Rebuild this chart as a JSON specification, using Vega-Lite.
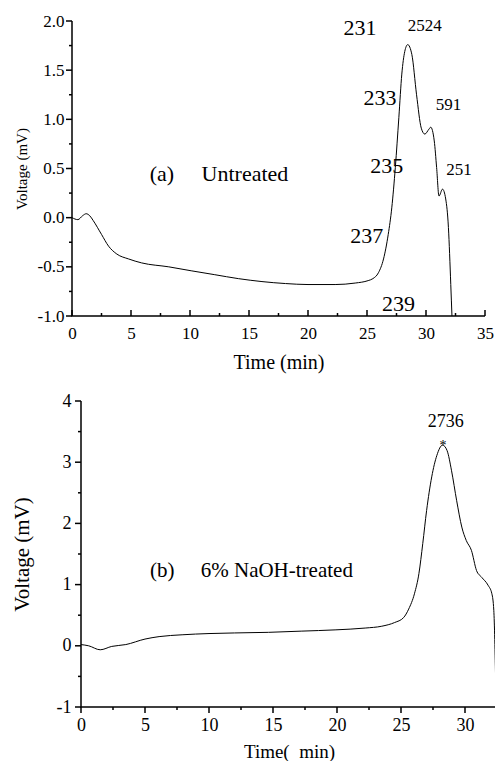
{
  "$schema": "https://vega.github.io/schema/vega-lite/v6.json",
  "padding": {"left": 11, "top": 12, "right": 0, "bottom": 0},
  "spacing": 20,
  "config": {
    "view": {"stroke": null, "fill": null},
    "axis": {"grid": false, "domain": false, "ticks": false, "labelColor": "#000000", "titleColor": "#000000", "labelFont": "Liberation Serif", "titleFont": "Liberation Serif", "titleFontWeight": "normal", "labelOverlap": false, "labelFlush": false}
  },
  "datasets": {
    "a": [
      {"t": 0, "v": 0}, {"t": 0.5, "v": -0.02}, {"t": 0.9, "v": 0.02}, {"t": 1.2, "v": 0.04}, {"t": 1.5, "v": 0.02}, {"t": 1.8, "v": -0.03},
      {"t": 2.5, "v": -0.17}, {"t": 3.1, "v": -0.29}, {"t": 3.8, "v": -0.37}, {"t": 4.8, "v": -0.42}, {"t": 5.9, "v": -0.46},
      {"t": 8.2, "v": -0.5}, {"t": 10.1, "v": -0.54}, {"t": 12.1, "v": -0.58}, {"t": 14.1, "v": -0.62}, {"t": 16.1, "v": -0.65},
      {"t": 18.1, "v": -0.67}, {"t": 20, "v": -0.68}, {"t": 22.3, "v": -0.68}, {"t": 24, "v": -0.665}, {"t": 25.1, "v": -0.64},
      {"t": 25.5, "v": -0.62}, {"t": 25.97, "v": -0.56}, {"t": 26.4, "v": -0.42}, {"t": 26.8, "v": -0.17}, {"t": 27.1, "v": 0.1},
      {"t": 27.4, "v": 0.51}, {"t": 27.7, "v": 1.02}, {"t": 27.95, "v": 1.46}, {"t": 28.2, "v": 1.69}, {"t": 28.45, "v": 1.76},
      {"t": 28.8, "v": 1.66}, {"t": 29.2, "v": 1.25}, {"t": 29.6, "v": 0.91}, {"t": 29.9, "v": 0.85}, {"t": 30.25, "v": 0.9},
      {"t": 30.4, "v": 0.92}, {"t": 30.7, "v": 0.78}, {"t": 30.9, "v": 0.51}, {"t": 31.1, "v": 0.22}, {"t": 31.4, "v": 0.29},
      {"t": 31.67, "v": 0.19}, {"t": 31.9, "v": -0.1}, {"t": 32.1, "v": -0.68}, {"t": 32.2, "v": -1.0}
    ],
    "a_frame": [{"t": 0, "v": 2, "i": 0}, {"t": 0, "v": -1, "i": 1}, {"t": 35, "v": -1, "i": 2}],
    "a_xmajor": [{"t": 0}, {"t": 5}, {"t": 10}, {"t": 15}, {"t": 20}, {"t": 25}, {"t": 30}, {"t": 35}],
    "a_xminor": [{"t": 2.5}, {"t": 7.5}, {"t": 12.5}, {"t": 17.5}, {"t": 22.5}, {"t": 27.5}, {"t": 32.5}],
    "a_ymajor": [{"v": -1}, {"v": -0.5}, {"v": 0}, {"v": 0.5}, {"v": 1}, {"v": 1.5}, {"v": 2}],
    "a_yminor": [{"v": -0.75}, {"v": -0.25}, {"v": 0.25}, {"v": 0.75}, {"v": 1.25}, {"v": 1.75}],
    "a_fractions": [
      {"t": 24.4, "v": 1.93, "label": "231"}, {"t": 26.1, "v": 1.22, "label": "233"}, {"t": 26.67, "v": 0.525, "label": "235"},
      {"t": 24.97, "v": -0.19, "label": "237"}, {"t": 27.66, "v": -0.88, "label": "239"}
    ],
    "a_peaks": [
      {"t": 29.9, "v": 1.95, "label": "2524"}, {"t": 31.9, "v": 1.145, "label": "591"}, {"t": 32.8, "v": 0.48, "label": "251"}
    ],
    "a_title": [{"t": 6.58, "v": 0.44, "label": "(a)\u00a0\u00a0\u00a0\u00a0 Untreated"}],
    "b": [
      {"t": 0, "v": 0.02}, {"t": 0.6, "v": 0}, {"t": 1.5, "v": -0.065}, {"t": 2.4, "v": -0.01}, {"t": 3.5, "v": 0.02},
      {"t": 5.0, "v": 0.11}, {"t": 6.1, "v": 0.15}, {"t": 7.9, "v": 0.18}, {"t": 10, "v": 0.2}, {"t": 12, "v": 0.21},
      {"t": 14.65, "v": 0.22}, {"t": 17.25, "v": 0.24}, {"t": 19.85, "v": 0.26}, {"t": 22.2, "v": 0.29}, {"t": 23.5, "v": 0.32},
      {"t": 24.5, "v": 0.38}, {"t": 25.2, "v": 0.46}, {"t": 25.6, "v": 0.6}, {"t": 26.05, "v": 0.85}, {"t": 26.4, "v": 1.18},
      {"t": 26.7, "v": 1.67}, {"t": 27.0, "v": 2.21}, {"t": 27.4, "v": 2.76}, {"t": 27.8, "v": 3.11}, {"t": 28.25, "v": 3.28},
      {"t": 28.6, "v": 3.19}, {"t": 28.95, "v": 2.86}, {"t": 29.35, "v": 2.37}, {"t": 29.75, "v": 1.94}, {"t": 30.1, "v": 1.72},
      {"t": 30.5, "v": 1.56}, {"t": 30.9, "v": 1.23}, {"t": 31.3, "v": 1.12}, {"t": 31.8, "v": 0.99}, {"t": 32.1, "v": 0.85},
      {"t": 32.25, "v": 0.58}, {"t": 32.4, "v": -0.62}
    ],
    "b_frame": [{"t": 0, "v": 4, "i": 0}, {"t": 0, "v": -1, "i": 1}, {"t": 32.5, "v": -1, "i": 2}],
    "b_xmajor": [{"t": 0}, {"t": 5}, {"t": 10}, {"t": 15}, {"t": 20}, {"t": 25}, {"t": 30}],
    "b_xminor": [{"t": 2.5}, {"t": 7.5}, {"t": 12.5}, {"t": 17.5}, {"t": 22.5}, {"t": 27.5}, {"t": 32.5}],
    "b_ymajor": [{"v": -1}, {"v": 0}, {"v": 1}, {"v": 2}, {"v": 3}, {"v": 4}],
    "b_yminor": [{"v": -0.5}, {"v": 0.5}, {"v": 1.5}, {"v": 2.5}, {"v": 3.5}],
    "b_peak": [{"t": 28.5, "v": 3.65, "label": "2736"}],
    "b_star": [{"t": 28.28, "v": 3.26, "label": "*"}],
    "b_title": [{"t": 5.39, "v": 1.23, "label": "(b)\u00a0\u00a0\u00a0\u00a0 6% NaOH-treated"}]
  },
  "vconcat": [
    {
      "width": 413,
      "height": 295,
      "resolve": {"axis": {"x": "independent", "y": "independent"}},
      "layer": [
        {
          "data": {"name": "a"},
          "mark": {"type": "line", "color": "black", "strokeWidth": 1, "interpolate": "monotone", "clip": true},
          "encoding": {
            "x": {"field": "t", "type": "quantitative", "scale": {"domain": [0, 35], "nice": false, "zero": false},
              "axis": {"orient": "bottom", "values": [0, 5, 10, 15, 20, 25, 30, 35], "domain": false, "ticks": false,
                "labelPadding": 9, "labelFontSize": 17, "labelFont": "Liberation Serif", "labelColor": "#000000", "title": "Time (min)", "titleFont": "Liberation Serif", "titleFontSize": 20, "titlePadding": 11}},
            "y": {"field": "v", "type": "quantitative", "scale": {"domain": [-1, 2], "nice": false, "zero": false},
              "axis": {"orient": "left", "values": [-1, -0.5, 0, 0.5, 1, 1.5, 2], "domain": false, "ticks": false,
                "labelExpr": "replace(format(datum.value, '.1f'), '\u2212', '-')",
                "labelPadding": 8, "labelFontSize": 17, "labelFont": "Liberation Serif", "labelColor": "#000000", "title": "Voltage (mV)", "titleFont": "Liberation Serif", "titleFontSize": 15, "titlePadding": 8}}
          }
        },
        {
          "data": {"name": "a_frame"},
          "mark": {"type": "line", "color": "black", "strokeWidth": 1.5, "clip": false},
          "encoding": {"x": {"field": "t", "type": "quantitative", "axis": null}, "y": {"field": "v", "type": "quantitative", "axis": null}, "order": {"field": "i", "type": "quantitative"}}
        },
        {
          "data": {"name": "a_xmajor"},
          "mark": {"type": "tick", "orient": "vertical", "size": 6, "thickness": 1.5, "yOffset": -3, "color": "black", "opacity": 1},
          "encoding": {"x": {"field": "t", "type": "quantitative", "axis": null}, "y": {"datum": -1, "type": "quantitative", "axis": null}}
        },
        {
          "data": {"name": "a_xminor"},
          "mark": {"type": "tick", "orient": "vertical", "size": 3, "thickness": 1.5, "yOffset": -1.5, "color": "black", "opacity": 1},
          "encoding": {"x": {"field": "t", "type": "quantitative", "axis": null}, "y": {"datum": -1, "type": "quantitative", "axis": null}}
        },
        {
          "data": {"name": "a_ymajor"},
          "mark": {"type": "tick", "orient": "horizontal", "size": 6, "thickness": 1.5, "xOffset": -3, "color": "black", "opacity": 1},
          "encoding": {"y": {"field": "v", "type": "quantitative", "axis": null}, "x": {"datum": 0, "type": "quantitative", "axis": null}}
        },
        {
          "data": {"name": "a_yminor"},
          "mark": {"type": "tick", "orient": "horizontal", "size": 3, "thickness": 1.5, "xOffset": -1.5, "color": "black", "opacity": 1},
          "encoding": {"y": {"field": "v", "type": "quantitative", "axis": null}, "x": {"datum": 0, "type": "quantitative", "axis": null}}
        },
        {
          "data": {"name": "a_fractions"},
          "mark": {"type": "text", "fontSize": 22, "align": "center", "baseline": "middle", "font": "Liberation Serif", "fill": "black"},
          "encoding": {"x": {"field": "t", "type": "quantitative", "axis": null}, "y": {"field": "v", "type": "quantitative", "axis": null}, "text": {"field": "label"}}
        },
        {
          "data": {"name": "a_peaks"},
          "mark": {"type": "text", "fontSize": 17, "align": "center", "baseline": "middle", "font": "Liberation Serif", "fill": "black"},
          "encoding": {"x": {"field": "t", "type": "quantitative", "axis": null}, "y": {"field": "v", "type": "quantitative", "axis": null}, "text": {"field": "label"}}
        },
        {
          "data": {"name": "a_title"},
          "mark": {"type": "text", "fontSize": 22, "align": "left", "baseline": "middle", "font": "Liberation Serif", "fill": "black"},
          "encoding": {"x": {"field": "t", "type": "quantitative", "axis": null}, "y": {"field": "v", "type": "quantitative", "axis": null}, "text": {"field": "label"}}
        }
      ]
    },
    {
      "width": 425,
      "height": 306,
      "resolve": {"axis": {"x": "independent", "y": "independent"}},
      "layer": [
        {
          "data": {"name": "b"},
          "mark": {"type": "line", "color": "black", "strokeWidth": 1, "interpolate": "monotone", "clip": false},
          "encoding": {
            "x": {"field": "t", "type": "quantitative", "scale": {"domain": [0, 32.5], "range": [9, 425], "nice": false, "zero": false},
              "axis": {"orient": "bottom", "values": [0, 5, 10, 15, 20, 25, 30], "domain": false, "ticks": false,
                "labelPadding": 9, "labelFontSize": 18, "labelFont": "Liberation Serif", "labelColor": "#000000", "title": "Time(\u00a0\u00a0min)", "titleFont": "Liberation Serif", "titleFontSize": 19, "titlePadding": 8}},
            "y": {"field": "v", "type": "quantitative", "scale": {"domain": [-1, 4], "nice": false, "zero": false},
              "axis": {"orient": "left", "offset": -9, "values": [-1, 0, 1, 2, 3, 4], "domain": false, "ticks": false,
                "labelExpr": "replace(format(datum.value, 'd'), '\u2212', '-')",
                "labelPadding": 10, "labelFontSize": 18, "labelFont": "Liberation Serif", "labelColor": "#000000", "title": "Voltage (mV)", "titleFont": "Liberation Serif", "titleFontSize": 21, "titlePadding": 24}}
          }
        },
        {
          "data": {"name": "b_frame"},
          "mark": {"type": "line", "color": "black", "strokeWidth": 1.5, "clip": false},
          "encoding": {"x": {"field": "t", "type": "quantitative", "axis": null}, "y": {"field": "v", "type": "quantitative", "axis": null}, "order": {"field": "i", "type": "quantitative"}}
        },
        {
          "data": {"name": "b_xmajor"},
          "mark": {"type": "tick", "orient": "vertical", "size": 6, "thickness": 1.5, "yOffset": 3, "color": "black", "opacity": 1},
          "encoding": {"x": {"field": "t", "type": "quantitative", "axis": null}, "y": {"datum": -1, "type": "quantitative", "axis": null}}
        },
        {
          "data": {"name": "b_xminor"},
          "mark": {"type": "tick", "orient": "vertical", "size": 3, "thickness": 1.5, "yOffset": 1.5, "color": "black", "opacity": 1},
          "encoding": {"x": {"field": "t", "type": "quantitative", "axis": null}, "y": {"datum": -1, "type": "quantitative", "axis": null}}
        },
        {
          "data": {"name": "b_ymajor"},
          "mark": {"type": "tick", "orient": "horizontal", "size": 6, "thickness": 1.5, "xOffset": -3, "color": "black", "opacity": 1},
          "encoding": {"y": {"field": "v", "type": "quantitative", "axis": null}, "x": {"datum": 0, "type": "quantitative", "axis": null}}
        },
        {
          "data": {"name": "b_yminor"},
          "mark": {"type": "tick", "orient": "horizontal", "size": 3, "thickness": 1.5, "xOffset": -1.5, "color": "black", "opacity": 1},
          "encoding": {"y": {"field": "v", "type": "quantitative", "axis": null}, "x": {"datum": 0, "type": "quantitative", "axis": null}}
        },
        {
          "data": {"name": "b_peak"},
          "mark": {"type": "text", "fontSize": 18, "align": "center", "baseline": "middle", "font": "Liberation Serif", "fill": "black"},
          "encoding": {"x": {"field": "t", "type": "quantitative", "axis": null}, "y": {"field": "v", "type": "quantitative", "axis": null}, "text": {"field": "label"}}
        },
        {
          "data": {"name": "b_star"},
          "mark": {"type": "text", "fontSize": 14, "align": "center", "baseline": "middle", "font": "Liberation Serif", "fill": "black"},
          "encoding": {"x": {"field": "t", "type": "quantitative", "axis": null}, "y": {"field": "v", "type": "quantitative", "axis": null}, "text": {"field": "label"}}
        },
        {
          "data": {"name": "b_title"},
          "mark": {"type": "text", "fontSize": 21, "align": "left", "baseline": "middle", "font": "Liberation Serif", "fill": "black"},
          "encoding": {"x": {"field": "t", "type": "quantitative", "axis": null}, "y": {"field": "v", "type": "quantitative", "axis": null}, "text": {"field": "label"}}
        }
      ]
    }
  ]
}
